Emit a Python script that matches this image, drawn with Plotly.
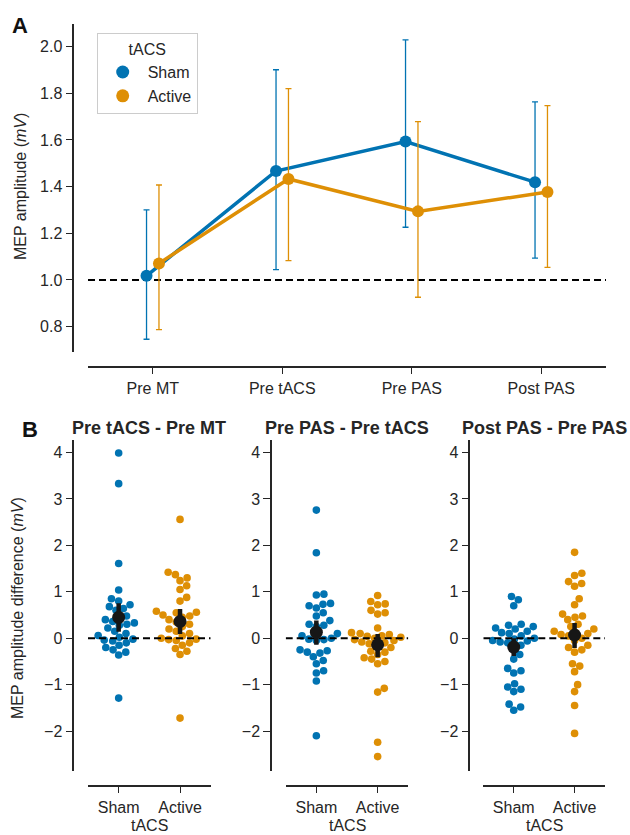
import numpy as np
import plotly.graph_objects as go

# ---------------- data ----------------
conditions = ["Pre MT", "Pre tACS", "Pre PAS", "Post PAS"]
groups = ["Sham", "Active"]

sham_mean = [1.018, 1.467, 1.593, 1.419]
sham_lo = [0.746, 1.044, 1.226, 1.094]
sham_hi = [1.300, 1.901, 2.029, 1.763]
active_mean = [1.071, 1.433, 1.294, 1.377]
active_lo = [0.787, 1.083, 0.926, 1.054]
active_hi = [1.407, 1.820, 1.679, 1.747]

diff_titles = ["Pre tACS - Pre MT", "Pre PAS - Pre tACS", "Post PAS - Pre PAS"]

sham_d1 = [3.99, 3.33, 1.61, 1.04, 0.85, 0.80, 0.72, 0.68, 0.64, 0.60, 0.48, 0.45,
           0.40, 0.36, 0.33, 0.30, 0.28, 0.22, 0.15, 0.10, 0.06, 0.02, -0.02, -0.04,
           -0.06, -0.10, -0.15, -0.20, -0.25, -0.30, -0.36, -1.29]
active_d1 = [2.56, 1.42, 1.37, 1.30, 1.24, 1.13, 1.05, 0.88, 0.80, 0.58, 0.56, 0.55,
             0.50, 0.48, 0.45, 0.40, 0.35, 0.30, 0.25, 0.20, 0.15, 0.10, 0.05, 0.00,
             -0.02, -0.03, -0.05, -0.10, -0.15, -0.22, -0.28, -0.35, -1.72]
sham_d2 = [2.76, 1.84, 0.95, 0.93, 0.75, 0.73, 0.70, 0.65, 0.55, 0.48, 0.38, 0.30,
           0.28, 0.25, 0.10, 0.05, 0.00, -0.02, -0.03, -0.05, -0.25, -0.27, -0.30,
           -0.32, -0.40, -0.48, -0.55, -0.70, -0.75, -0.92, -2.10]
active_d2 = [0.92, 0.79, 0.74, 0.72, 0.60, 0.55, 0.52, 0.22, 0.12, 0.10, 0.08, 0.05,
             0.04, 0.02, 0.00, -0.03, -0.05, -0.08, -0.10, -0.12, -0.15, -0.20, -0.28,
             -0.30, -0.35, -0.42, -0.45, -0.50, -0.55, -1.08, -1.16, -2.24, -2.55]
sham_d3 = [0.90, 0.83, 0.70, 0.30, 0.28, 0.25, 0.22, 0.20, 0.15, 0.12, 0.10, 0.05,
           0.00, -0.02, -0.05, -0.06, -0.08, -0.10, -0.15, -0.20, -0.35, -0.45, -0.65,
           -0.70, -0.75, -0.98, -1.05, -1.10, -1.15, -1.42, -1.48, -1.55]
active_d3 = [1.85, 1.40, 1.35, 1.22, 1.18, 1.12, 0.85, 0.72, 0.52, 0.48, 0.45, 0.40,
             0.30, 0.25, 0.20, 0.15, 0.12, 0.10, 0.08, 0.05, 0.00, -0.05, -0.15, -0.20,
             -0.25, -0.30, -0.55, -0.60, -0.72, -1.00, -1.15, -1.45, -2.05]

sham_dmean = [0.45, 0.13, -0.19]
sham_dlo = [0.14, -0.14, -0.385]
sham_dhi = [0.755, 0.38, 0.00]
active_dmean = [0.36, -0.14, 0.07]
active_dlo = [0.09, -0.41, -0.21]
active_dhi = [0.63, 0.09, 0.33]

# ---------------- style ----------------
W, H = 630, 835
BLUE = "#0173b2"
ORANGE = "#de8f05"
INK = "#262626"
FONT = "Liberation Sans, Arial, sans-serif"

A_XPX = (88, 606)
A_YPX = (24, 352.3)      # top, bottom
A_YAX = 73.3
A_XAX = 366.7
A_XR = [-0.5, 3.5]
A_YR = [0.69, 2.097]

B_YPX = (440, 771)
B_XAX = 785.7
B_XR = [-0.5, 1.5]
B_YR = [-2.86, 4.27]
B_PANELS = [((88, 210.7), 73.3), ((285.7, 408.3), 271.0), ((483.3, 605.0), 469.3)]


def xdom(a, b):
    return [a / W, b / W]


def ydom(top, bottom):
    return [1 - bottom / H, 1 - top / H]


def axis_style(**kw):
    d = dict(showline=True, linecolor=INK, linewidth=1.5, ticks="outside",
             ticklen=7, tickwidth=1.3, tickcolor=INK, showgrid=False,
             zeroline=False, tickfont=dict(family=FONT, size=16, color=INK))
    d.update(kw)
    return d


def swarm(vals, center, d, xscale, yscale):
    order = np.argsort(vals)
    placed = []
    xs = np.zeros(len(vals))
    for idx in order:
        y = vals[idx] * yscale
        cands = [0.0]
        for (px, py) in placed:
            dy = abs(py - y)
            if dy < d:
                dx = np.sqrt(d * d - dy * dy)
                cands += [px + dx, px - dx]
        cands.sort(key=abs)
        for c in cands:
            ok = True
            for (px, py) in placed:
                if (px - c) ** 2 + (py - y) ** 2 < d * d - 1e-6:
                    ok = False
                    break
            if ok:
                break
        placed.append((c, y))
        xs[idx] = c
    return center + xs / xscale


fig = go.Figure()

# ---------------- panel A ----------------
xpos = np.arange(len(conditions))
dodge = 0.048
for name, mean, lo, hi, col, off in [
    ("Sham", sham_mean, sham_lo, sham_hi, BLUE, -dodge),
    ("Active", active_mean, active_lo, active_hi, ORANGE, dodge),
]:
    m = np.array(mean)
    fig.add_trace(go.Scatter(
        x=xpos + off, y=m, mode="lines+markers", name=name, showlegend=False,
        line=dict(color=col, width=3.5), marker=dict(color=col, size=12),
        error_y=dict(type="data", symmetric=False, array=np.array(hi) - m,
                     arrayminus=m - np.array(lo), color=col, thickness=1.3, width=3),
        xaxis="x", yaxis="y"))
    fig.add_trace(go.Scatter(
        x=[None], y=[None], mode="markers", name=name, showlegend=True,
        marker=dict(color=col, size=13), xaxis="x", yaxis="y"))

fig.add_shape(type="line", xref="x domain", yref="y", x0=0, x1=1, y0=1.0, y1=1.0,
              line=dict(color="black", width=2, dash="7px,4px"), layer="below")

# ---------------- panel B ----------------
series_b = [
    (sham_d1, active_d1), (sham_d2, active_d2), (sham_d3, active_d3)
]
for k, ((sd, ad), ((xa, xb), yax)) in enumerate(zip(series_b, B_PANELS)):
    xn = "x%d" % (k + 2)
    yn = "y%d" % (k + 2)
    xscale = (xb - xa) / (B_XR[1] - B_XR[0])
    yscale = (B_YPX[1] - B_YPX[0]) / (B_YR[1] - B_YR[0])
    for gi, (vals, col) in enumerate([(sd, BLUE), (ad, ORANGE)]):
        v = np.array(vals, dtype=float)
        xs = swarm(v, gi, 7.6, xscale, yscale)
        fig.add_trace(go.Scatter(x=xs, y=v, mode="markers", showlegend=False,
                                 marker=dict(color=col, size=7.6),
                                 xaxis=xn, yaxis=yn))
    fig.add_trace(go.Scatter(x=B_XR, y=[0, 0], mode="lines", showlegend=False,
                             line=dict(color="black", width=2, dash="7px,4px"),
                             xaxis=xn, yaxis=yn, hoverinfo="skip"))
    mm = np.array([sham_dmean[k], active_dmean[k]])
    lo = np.array([sham_dlo[k], active_dlo[k]])
    hi = np.array([sham_dhi[k], active_dhi[k]])
    fig.add_trace(go.Scatter(
        x=[0, 1], y=mm, mode="markers", showlegend=False,
        marker=dict(color="#161616", size=13),
        error_y=dict(type="data", symmetric=False, array=hi - mm, arrayminus=mm - lo,
                     color="#161616", thickness=4.5, width=0),
        xaxis=xn, yaxis=yn))

# ---------------- layout ----------------
layout = dict(
    width=W, height=H, margin=dict(l=0, r=0, t=0, b=0),
    paper_bgcolor="white", plot_bgcolor="white",
    font=dict(family=FONT, size=16, color=INK),
    xaxis=axis_style(domain=xdom(*A_XPX), range=A_XR, anchor="free",
                     position=1 - A_XAX / H, tickvals=list(xpos), ticktext=conditions),
    yaxis=axis_style(domain=ydom(*A_YPX), range=A_YR, anchor="free",
                     position=A_YAX / W, tickvals=[0.8, 1.0, 1.2, 1.4, 1.6, 1.8, 2.0],
                     tickformat=".1f"),
    legend=dict(x=96.7 / W, y=1 - 33.3 / H, xanchor="left", yanchor="top",
                bordercolor="#cccccc", borderwidth=1, bgcolor="rgba(255,255,255,0.9)",
                font=dict(family=FONT, size=16, color=INK),
                title=dict(text="tACS", side="top center",
                           font=dict(family=FONT, size=16, color=INK)),
                itemwidth=40, tracegroupgap=0),
)
for k, ((xa, xb), yax) in enumerate(B_PANELS):
    layout["xaxis%d" % (k + 2)] = axis_style(
        domain=xdom(xa, xb), range=B_XR, anchor="free", position=1 - B_XAX / H,
        tickvals=[0, 1], ticktext=groups)
    layout["yaxis%d" % (k + 2)] = axis_style(
        domain=ydom(*B_YPX), range=B_YR, anchor="free", position=yax / W,
        tickvals=[-2, -1, 0, 1, 2, 3, 4])
fig.update_layout(**layout)


def note(text, xpx, ypx, size=16, angle=0, color=INK):
    return dict(text=text, x=xpx / W, y=1 - ypx / H, xref="paper", yref="paper",
                xanchor="center", yanchor="middle", showarrow=False, textangle=angle,
                font=dict(family=FONT, size=size, color=color))


ann = [
    note("<b>A</b>", 20, 25, size=22, color="#111111"),
    note("<b>B</b>", 30, 430, size=22, color="#111111"),
    note("MEP amplitude (<i>mV</i>)", 20, 187, angle=-90),
    note("MEP amplitude difference (<i>mV</i>)", 17, 608, angle=-90),
]
for k, ((xa, xb), yax) in enumerate(B_PANELS):
    cx = (xa + xb) / 2
    ann.append(note("<b>%s</b>" % diff_titles[k], cx, 428, size=18))
    ann.append(note("tACS", cx, 825))
fig.update_layout(annotations=ann)

fig.write_html("out.html", config={"displayModeBar": False},
               post_script="document.body.style.margin='0px';")
